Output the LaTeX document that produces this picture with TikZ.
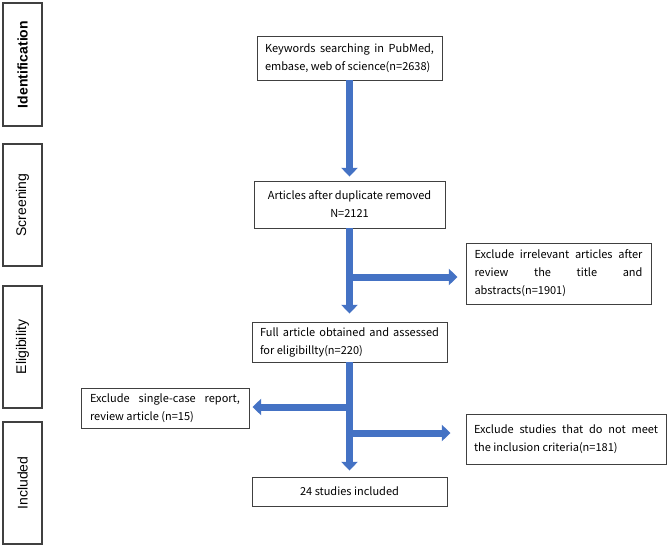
\documentclass[tikz,border=0pt]{standalone}
\usepackage{fontspec}
\setmainfont{Noto Sans CJK SC}
\newfontfamily\stagefont{Liberation Sans}
\usetikzlibrary{arrows.meta}
\definecolor{arrowblue}{HTML}{4472C4}
\begin{document}
\begin{tikzpicture}[
      x=0.75pt, y=-0.75pt,
      stage/.style={draw=black!75, line width=0.8pt, rotate=90,
                    minimum width=91.5pt, minimum height=29.25pt, inner sep=0pt,
                    font=\stagefont\fontsize{10.5}{12}\selectfont},
      box/.style={draw=black!75, line width=0.7pt, inner sep=0pt,
                  font=\fontsize{8.25}{13.5}\selectfont, align=justify},
      flow/.style={draw=arrowblue, line width=5.25pt,
                   -{Triangle[width=12pt,length=6.5pt]}}
    ]
      \useasboundingbox (0,0) rectangle (669,547);
      \node[stage,minimum width=92.25pt,font=\stagefont\bfseries\fontsize{10.5}{12}\selectfont] (ident) at (22.5,64.5) {Identification};
      \node[stage] (screen) at (22.5,205) {Screening};
      \node[stage] (elig) at (22.5,347) {Eligibility};
      \node[stage] (incl) at (22.5,483) {Included};
      \node[box,minimum width=138.75pt,minimum height=33pt,text width=126.75pt] (kw) at (349.5,58)
        {Keywords searching in PubMed,\linebreak embase, web of science(n=2638)};
      \node[box,minimum width=143.25pt,minimum height=35.25pt,align=center] (art) at (349.5,204.5)
        {Articles after duplicate removed\\N=2121};
      \node[box,minimum width=138.75pt,minimum height=45.75pt,text width=126pt] (irr) at (558.5,273.5)
        {Exclude irrelevant articles after\linebreak review the title and\linebreak abstracts(n=1901)};
      \node[box,minimum width=146.25pt,minimum height=30pt,text width=134.25pt] (full) at (349.5,342)
        {Full article obtained and assessed\linebreak for eligibillty(n=220)};
      \node[box,minimum width=126pt,minimum height=30pt,text width=112.5pt] (single) at (165,408)
        {Exclude single-case report,\linebreak review article (n=15)};
      \node[box,minimum width=150pt,minimum height=37.5pt,text width=138pt] (studies) at (566,439)
        {Exclude studies that do not meet\linebreak the inclusion criteria(n=181)};
      \node[box,minimum width=146.25pt,minimum height=21.75pt,align=center] (final) at (349.5,491.5)
        {24 studies included};
      \coordinate (split1) at (349.5,277);
      \coordinate (split2) at (349.5,407);
      \coordinate (split3) at (349.5,433);
      \draw[flow,shorten >=3pt] (kw.south) -- (art.north);
      \draw[flow,shorten >=6pt] (art.south) -- (full.north);
      \draw[flow,shorten >=6pt] (split1) -- (split1 -| irr.west);
      \draw[flow,shorten >=4.5pt] (full.south) -- (final.north);
      \draw[flow,shorten >=2.25pt] (split2) -- (split2 -| single.east);
      \draw[flow,shorten >=11.25pt] (split3) -- (split3 -| studies.west);
    \end{tikzpicture}
\end{document}
